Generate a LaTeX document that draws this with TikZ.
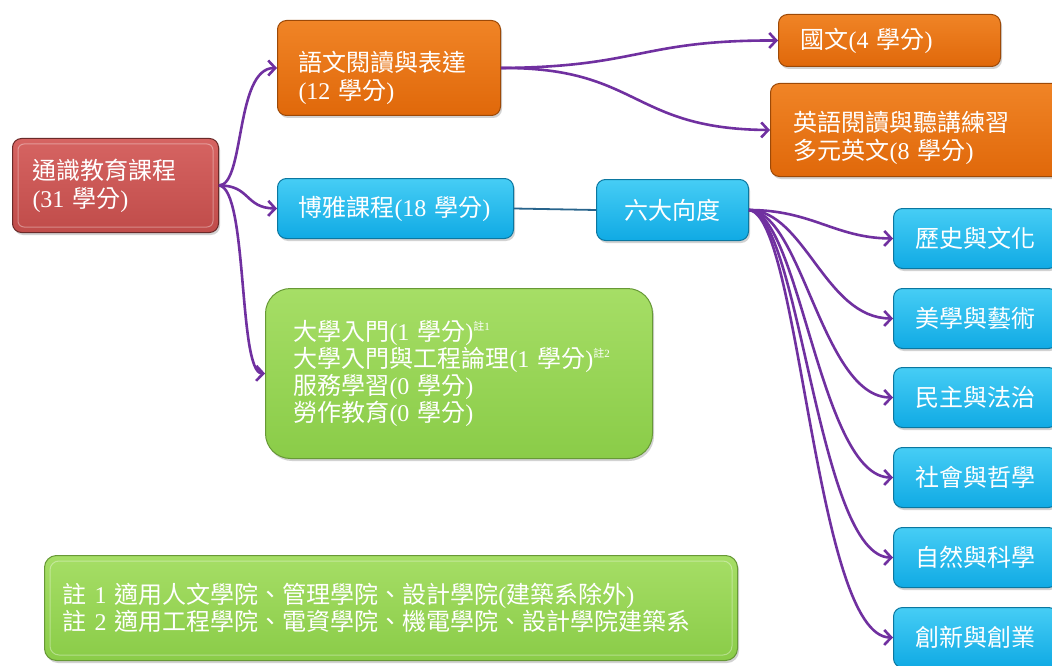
\documentclass[tikz,border=0pt]{standalone}
\usepackage{fontspec}
\setmainfont{Noto Sans CJK TC}
\newfontfamily\latinfnt{Liberation Serif}
\newcommand{\lf}[1]{{\latinfnt #1}}
\usetikzlibrary{arrows.meta,shadows}
\definecolor{redbase}{RGB}{192,76,74}
\definecolor{redtop}{RGB}{214,100,98}
\definecolor{orbase}{RGB}{224,104,10}
\definecolor{ortop}{RGB}{240,132,38}
\definecolor{blbase}{RGB}{16,170,228}
\definecolor{bltop}{RGB}{70,205,245}
\definecolor{grbase}{RGB}{138,204,72}
\definecolor{grtop}{RGB}{166,222,102}
\definecolor{arr}{RGB}{112,48,160}
\definecolor{linkc}{RGB}{40,100,140}
\tikzset{
  box/.style={anchor=north west, inner sep=0pt, rounded corners=9pt, line width=1pt,
    text=white, font=\fontsize{24}{28}\selectfont,
    drop shadow={shadow xshift=1.5pt, shadow yshift=-2.5pt, opacity=0.35}},
  redbox/.style={box, draw=redbase!55!black, top color=redtop, bottom color=redbase},
  orbox/.style={box, draw=orbase!70!black, top color=ortop, bottom color=orbase},
  blbox/.style={box, draw=blbase!70!black, top color=bltop, bottom color=blbase},
  grbox/.style={box, draw=grbase!75!black, top color=grtop, bottom color=grbase},
  conn/.style={draw=arr, line width=2.6pt, -{Straight Barb[length=7pt,width=15pt]}},
  linkline/.style={draw=linkc, line width=1.8pt},
  bevel/.style={draw=white, opacity=0.35, line width=1pt, rounded corners=6pt},
}
\newcommand{\note}[1]{\raisebox{10pt}{\fontsize{11}{11}\selectfont #1}}
\begin{document}
\begin{tikzpicture}[x=1pt,y=-1pt]
\useasboundingbox (0,0) rectangle (1052,666);
\clip (0,0) rectangle (1052,666);
\fill[white] (0,0) rectangle (1052,666);

% nodes
\node[redbox, minimum width=206pt, minimum height=94pt, inner xsep=20pt, text width=166pt, align=left] (root) at (12,138) {通識教育課程\\\lf{(31 }學分\lf{)}};
\draw[bevel] ([shift={(6,6)}]root.north west) rectangle ([shift={(-6,-6)}]root.south east);

\node[orbox, minimum width=223pt, minimum height=95pt, inner xsep=21pt, text width=181pt, align=left] (lang) at (277,20) {\rule{0pt}{40pt}語文閱讀與表達\\\lf{(12 }學分\lf{)}};
\node[orbox, minimum width=222pt, minimum height=52pt, inner xsep=22pt, text width=178pt, align=left] (chin) at (778,14) {國文\lf{(4 }學分\lf{)}};
\node[orbox, minimum width=300pt, minimum height=93pt, inner xsep=23pt, text width=254pt, align=left] (eng) at (770,83) {\rule{0pt}{37pt}英語閱讀與聽講練習\\多元英文\lf{(8 }學分\lf{)}};

\node[blbox, minimum width=236pt, minimum height=60pt, inner xsep=21pt, text width=194pt, align=left] (lib) at (277,178) {博雅課程\lf{(18 }學分\lf{)}};
\node[blbox, minimum width=152pt, minimum height=61pt, inner xsep=22pt, text width=108pt, align=center] (six) at (596,179) {六大向度};

\node[blbox, minimum width=164pt, minimum height=60pt, text width=164pt, align=center] (d1) at (893,208) {歷史與文化};
\node[blbox, minimum width=164pt, minimum height=60pt, text width=164pt, align=center] (d2) at (893,288) {美學與藝術};
\node[blbox, minimum width=164pt, minimum height=60pt, text width=164pt, align=center] (d3) at (893,367) {民主與法治};
\node[blbox, minimum width=164pt, minimum height=60pt, text width=164pt, align=center] (d4) at (893,447) {社會與哲學};
\node[blbox, minimum width=164pt, minimum height=60pt, text width=164pt, align=center] (d5) at (893,527) {自然與科學};
\node[blbox, minimum width=164pt, minimum height=60pt, text width=164pt, align=center] (d6) at (893,607) {創新與創業};

\node[grbox, rounded corners=25pt, minimum width=387pt, minimum height=170pt, inner xsep=28pt, text width=331pt, align=left, font=\fontsize{24}{27}\selectfont] (gen) at (265,288)
  {大學入門\lf{(1 }學分\lf{)}\note{註\lf{1}}\\大學入門與工程論理\lf{(1 }學分\lf{)}\note{註\lf{2}}\\服務學習\lf{(0 }學分\lf{)}\\勞作教育\lf{(0 }學分\lf{)}};

\node[grbox, rounded corners=12pt, minimum width=693pt, minimum height=105pt, inner xsep=18pt, text width=657pt, align=left, font=\fontsize{24}{27}\selectfont] (notes) at (44,555)
  {註\lf{ 1 }適用人文學院、管理學院、設計學院\lf{(}建築系除外\lf{)}\\註\lf{ 2 }適用工程學院、電資學院、機電學院、設計學院建築系};
\draw[bevel, rounded corners=9pt] ([shift={(6,6)}]notes.north west) rectangle ([shift={(-6,-6)}]notes.south east);

% connectors
\draw[conn] (root.east) .. controls (245,185) and (235,68) .. (lang.west);
\draw[conn] (root.east) .. controls (250,185) and (245,208) .. (lib.west);
\draw[conn] (root.east) .. controls (248,188) and (238,373) .. (gen.west);

\draw[conn] (lang.east) .. controls (640,67) and (640,40) .. (chin.west);
\draw[conn] (lang.east) .. controls (640,67) and (630,129) .. (eng.west);

\draw[linkline] (lib.east) -- (six.west);

\draw[conn] (six.east) .. controls (812,210) and (835,238) .. (d1.west);
\draw[conn] (six.east) .. controls (805,211) and (825,318) .. (d2.west);
\draw[conn] (six.east) .. controls (802,212) and (822,397) .. (d3.west);
\draw[conn] (six.east) .. controls (800,213) and (820,477) .. (d4.west);
\draw[conn] (six.east) .. controls (800,214) and (818,557) .. (d5.west);
\draw[conn] (six.east) .. controls (800,215) and (815,637) .. (d6.west);
\end{tikzpicture}
\end{document}
